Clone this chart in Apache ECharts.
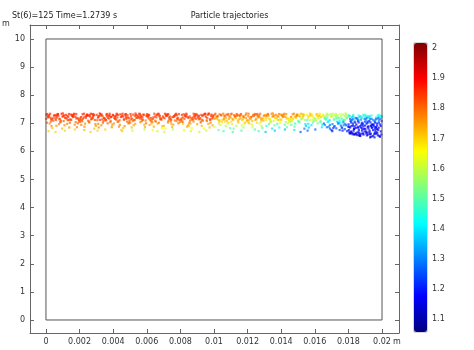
<!DOCTYPE html>
<html><head><meta charset="utf-8">
<script src="https://cdn.jsdelivr.net/npm/echarts@6/dist/echarts.min.js"></script>
<style>html,body{margin:0;padding:0;background:#fff}#c{width:474px;height:350px}</style>
</head><body><div id="c"></div>
<script>
const titleLeft = 'St(6)=125 Time=1.2739 s';
const titleMain = 'Particle trajectories';
const xTicks = [0, 0.002, 0.004, 0.006, 0.008, 0.01, 0.012, 0.014, 0.016, 0.018, 0.02];
const yTicks = [0, 1, 2, 3, 4, 5, 6, 7, 8, 9, 10];
const cbTicks = [1.1, 1.2, 1.3, 1.4, 1.5, 1.6, 1.7, 1.8, 1.9, 2];
const domainX = [0, 0.02, 0.02, 0, 0];
const domainY = [0, 0, 10, 10, 0];
// particles: [x (1e-5 m), y (0.01 m), particle value (0.01)]
const bandLeft = [
[3,731,186],[41,718,183],[17,724,186],[29,706,180],[8,733,186],[36,713,183],[22,699,177],[47,727,185],[13,721,184],[33,690,176],[1,716,184],[25,734,185],[44,709,181],[10,725,185],[38,683,172],[19,729,185],[31,714,184],[6,702,180],[27,720,184],[15,672,170],
[74,727,186],[59,712,183],[93,734,186],[66,720,183],[85,703,181],[52,729,185],[80,716,184],[62,691,176],[98,724,186],[70,732,185],[89,709,181],[55,718,183],[77,697,177],[64,730,185],[96,681,172],[82,714,183],[61,726,186],[87,706,180],[71,733,186],[57,669,170],
[137,733,186],[114,720,183],[105,708,181],[128,726,185],[145,714,184],[119,730,185],[110,693,177],[133,723,185],[124,717,184],[101,735,185],[142,702,181],[129,711,180],[108,728,186],[139,685,176],[117,719,184],[148,731,185],[126,698,177],[103,725,185],[135,712,184],[112,674,170],
[161,722,186],[180,733,185],[196,710,181],[154,728,185],[171,695,177],[188,719,183],[165,731,186],[177,704,180],[157,726,186],[193,715,183],[184,686,177],[168,734,185],[150,712,184],[175,723,185],[190,700,181],[159,730,185],[181,717,184],[172,678,170],[199,708,181],[163,725,185],
[220,716,184],[245,730,185],[208,722,186],[233,699,176],[226,734,186],[213,711,180],[241,726,186],[202,705,180],[237,719,184],[218,732,185],[229,688,177],[206,713,183],[247,728,186],[224,721,183],[210,694,177],[235,724,185],[216,707,181],[243,731,185],[228,676,172],[204,717,183],
[253,727,186],[291,712,183],[267,734,186],[279,720,183],[258,703,181],[286,729,185],[272,716,184],[297,691,176],[263,724,186],[283,732,185],[251,709,181],[275,718,183],[294,697,177],[260,730,185],[288,681,172],[269,714,183],[281,726,186],[256,706,180],[277,733,186],[265,669,170],
[324,733,186],[309,720,183],[343,708,181],[316,726,185],[335,714,184],[302,730,185],[330,693,177],[312,723,185],[348,717,184],[320,735,185],[339,702,181],[305,711,180],[327,728,186],[314,685,176],[346,719,184],[332,731,185],[311,698,177],[337,725,185],[321,712,184],[307,674,170],
[387,722,186],[364,733,185],[355,710,181],[378,728,185],[395,695,177],[369,719,183],[360,731,186],[383,704,180],[374,726,186],[351,715,183],[392,686,177],[379,734,185],[358,712,184],[389,723,185],[367,700,181],[398,730,185],[376,717,184],[353,678,170],[385,708,181],[362,725,185],
[411,716,184],[430,730,185],[446,722,186],[404,699,176],[421,734,186],[438,711,180],[415,726,186],[427,705,180],[407,719,184],[443,732,185],[434,688,177],[418,713,183],[400,728,186],[425,721,183],[440,694,177],[409,724,185],[431,707,181],[422,731,185],[449,676,172],[413,717,183],
[470,731,186],[495,718,183],[458,724,186],[483,706,180],[476,733,186],[463,713,183],[491,699,177],[452,727,185],[487,721,184],[468,690,176],[479,716,184],[456,734,185],[497,709,181],[474,725,185],[460,683,172],[485,729,185],[466,714,184],[493,702,180],[478,720,184],[454,672,170]
];
const bandMid = [
[503,733,185],[541,720,182],[517,708,179],[529,726,184],[508,714,183],[536,730,184],[522,693,174],[547,723,184],[513,717,183],[533,735,184],[501,702,179],[525,711,178],[544,728,185],[510,685,172],[538,719,183],[519,731,184],[531,698,174],[506,725,184],[527,712,183],[515,674,160],
[574,722,185],[559,733,184],[593,710,179],[566,728,184],[585,695,174],[552,719,182],[580,731,185],[562,704,178],[598,726,185],[570,715,182],[589,686,174],[555,734,184],[577,712,183],[564,723,184],[596,700,179],[582,730,184],[561,717,183],[587,678,160],[571,708,179],[557,725,184],
[637,716,183],[614,730,184],[605,722,185],[628,699,172],[645,734,185],[619,711,178],[610,726,185],[633,705,178],[624,719,183],[601,732,184],[642,688,174],[629,713,182],[608,728,185],[639,721,182],[617,694,174],[648,724,184],[626,707,179],[603,731,184],[635,676,165],[612,717,182],
[661,731,185],[680,718,182],[696,724,185],[654,706,178],[671,733,185],[688,713,182],[665,699,174],[677,727,184],[657,721,183],[693,690,172],[684,716,183],[668,734,184],[650,709,179],[675,725,184],[690,683,165],[659,729,184],[681,714,183],[672,702,178],[699,720,183],[663,672,160],
[720,727,185],[745,712,182],[708,734,185],[733,720,182],[726,703,179],[713,729,184],[741,716,183],[702,691,172],[737,724,185],[718,732,184],[729,709,179],[706,718,182],[747,697,174],[724,730,184],[710,681,165],[735,714,182],[716,726,185],[743,706,178],[728,733,185],[704,669,160],
[753,722,185],[791,733,184],[767,710,179],[779,728,184],[758,695,174],[786,719,182],[772,731,185],[797,704,178],[763,726,185],[783,715,182],[751,686,174],[775,734,184],[794,712,183],[760,723,184],[788,700,179],[769,730,184],[781,717,183],[756,678,160],[777,708,179],[765,725,184],
[824,716,183],[809,730,184],[843,722,185],[816,699,172],[835,734,185],[802,711,178],[830,726,185],[812,705,178],[848,719,183],[820,732,184],[839,688,174],[805,713,182],[827,728,185],[814,721,182],[846,694,174],[832,724,184],[811,707,179],[837,731,184],[821,676,165],[807,717,182],
[887,731,185],[864,718,182],[855,724,185],[878,706,178],[895,733,185],[869,713,182],[860,699,174],[883,727,184],[874,721,183],[851,690,172],[892,716,183],[879,734,184],[858,709,179],[889,725,184],[867,683,165],[898,729,184],[876,714,183],[853,702,178],[885,720,183],[862,672,160],
[911,727,185],[930,712,182],[946,734,185],[904,720,182],[921,703,179],[938,729,184],[915,716,183],[927,691,172],[907,724,185],[943,732,184],[934,709,179],[918,718,182],[900,697,174],[925,730,184],[940,681,165],[909,714,182],[931,726,185],[922,706,178],[949,733,185],[913,669,160],
[970,733,185],[995,720,182],[958,708,179],[983,726,184],[976,714,183],[963,730,184],[991,693,174],[952,723,184],[987,717,183],[968,735,184],[979,702,179],[956,711,178],[997,728,185],[974,685,172],[960,719,183],[985,731,184],[966,698,174],[993,725,184],[978,712,183],[954,674,160]
];
const bandRight = [
[1003,716,175],[1041,730,179],[1017,722,181],[1029,699,158],[1008,734,181],[1036,711,169],[1022,726,181],[1047,705,169],[1013,719,175],[1033,732,179],[1001,688,162],[1025,713,172],[1044,728,181],[1010,721,172],[1038,694,162],[1019,724,179],[1031,707,172],[1006,731,179],[1027,676,152],[1015,717,172],
[1074,731,181],[1059,718,172],[1093,724,181],[1066,706,169],[1085,733,181],[1052,713,172],[1080,699,162],[1062,727,179],[1098,721,175],[1070,690,158],[1089,716,175],[1055,734,179],[1077,709,172],[1064,725,179],[1096,683,152],[1082,729,179],[1061,714,175],[1087,702,169],[1071,720,175],[1057,672,148],
[1137,727,181],[1114,712,172],[1105,734,181],[1128,720,172],[1145,703,172],[1119,729,179],[1110,716,175],[1133,691,158],[1124,724,181],[1101,732,179],[1142,709,172],[1129,718,172],[1108,697,162],[1139,730,179],[1117,681,152],[1148,714,172],[1126,726,181],[1103,706,169],[1135,733,181],[1112,669,148],
[1161,733,181],[1180,720,172],[1196,708,172],[1154,726,179],[1171,714,175],[1188,730,179],[1165,693,162],[1177,723,179],[1157,717,175],[1193,735,179],[1184,702,172],[1168,711,169],[1150,728,181],[1175,685,158],[1190,719,175],[1159,731,179],[1181,698,162],[1172,725,179],[1199,712,175],[1163,674,148],
[1220,722,181],[1245,733,179],[1208,710,172],[1233,728,179],[1226,695,162],[1213,719,172],[1241,731,181],[1202,704,169],[1237,726,181],[1218,715,172],[1229,686,162],[1206,734,179],[1247,712,175],[1224,723,179],[1210,700,172],[1235,730,179],[1216,717,175],[1243,678,148],[1228,708,172],[1204,725,179],
[1253,731,181],[1291,718,172],[1267,724,181],[1279,706,169],[1258,733,181],[1286,713,172],[1272,699,162],[1297,727,179],[1263,721,175],[1283,690,158],[1251,716,175],[1275,734,179],[1294,709,172],[1260,725,179],[1288,683,152],[1269,729,179],[1281,714,175],[1256,702,169],[1277,720,175],[1265,672,148],
[1324,727,178],[1309,712,168],[1343,734,178],[1316,720,168],[1335,703,162],[1302,729,176],[1330,716,170],[1312,691,146],[1348,724,178],[1320,732,176],[1339,709,162],[1305,718,168],[1327,697,150],[1314,730,176],[1346,681,140],[1332,714,168],[1311,726,178],[1337,706,158],[1321,733,178],[1307,669,136],
[1387,733,178],[1364,720,168],[1355,708,162],[1378,726,176],[1395,714,170],[1369,730,176],[1360,693,150],[1383,723,176],[1374,717,170],[1351,735,176],[1392,702,162],[1379,711,158],[1358,728,178],[1389,685,146],[1367,719,170],[1398,731,176],[1376,698,150],[1353,725,176],[1385,712,170],[1362,674,136],
[1411,722,178],[1430,733,176],[1446,710,162],[1404,728,176],[1421,695,150],[1438,719,168],[1415,731,178],[1427,704,158],[1407,726,178],[1443,715,168],[1434,686,150],[1418,734,176],[1400,712,170],[1425,723,176],[1440,700,162],[1409,730,176],[1431,717,170],[1422,678,136],[1449,708,162],[1413,725,176],
[1470,716,170],[1495,730,176],[1458,722,178],[1483,699,146],[1476,734,178],[1463,711,158],[1491,726,178],[1452,705,158],[1487,719,170],[1468,732,176],[1479,688,150],[1456,713,168],[1497,728,178],[1474,721,168],[1460,694,150],[1485,724,176],[1466,707,162],[1493,731,176],[1478,676,140],[1454,717,168],
[1503,727,172],[1541,712,158],[1517,734,172],[1529,720,158],[1508,703,152],[1536,729,168],[1522,716,162],[1547,691,136],[1513,724,172],[1533,732,168],[1501,709,152],[1525,718,158],[1544,697,140],[1510,730,168],[1538,681,130],[1519,714,158],[1531,726,172],[1506,706,148],[1527,733,172],[1515,669,127],
[1574,733,172],[1559,720,158],[1593,708,152],[1566,726,168],[1585,714,162],[1552,730,168],[1580,693,140],[1562,723,168],[1598,717,162],[1570,735,168],[1589,702,152],[1555,711,148],[1577,728,172],[1564,685,136],[1596,719,162],[1582,731,168],[1561,698,140],[1587,725,168],[1571,712,162],[1557,674,127],
[1637,722,172],[1614,733,168],[1605,710,152],[1628,728,168],[1645,695,140],[1619,719,158],[1610,731,172],[1633,704,148],[1624,726,172],[1601,715,158],[1642,686,140],[1629,734,168],[1608,712,162],[1639,723,168],[1617,700,152],[1648,730,168],[1626,717,162],[1603,678,127],[1635,708,152],[1612,725,168],
[1661,716,152],[1680,730,158],[1696,722,162],[1654,699,127],[1671,734,162],[1688,711,138],[1665,726,162],[1677,705,138],[1657,719,152],[1693,732,158],[1684,688,130],[1668,713,148],[1650,728,162],[1675,721,148],[1690,694,130],[1659,724,158],[1681,707,142],[1672,731,158],[1699,676,122],[1663,717,148],
[1720,731,162],[1745,718,148],[1708,724,162],[1733,706,138],[1726,733,162],[1713,713,148],[1741,699,130],[1702,727,158],[1737,721,152],[1718,690,127],[1729,716,152],[1706,734,158],[1747,709,142],[1724,725,158],[1710,683,122],[1735,729,158],[1716,714,152],[1743,702,138],[1728,720,152],[1704,672,120],
[1753,733,162],[1791,720,148],[1767,708,142],[1779,726,158],[1758,714,152],[1786,730,158],[1772,693,130],[1797,723,158],[1763,717,152],[1783,735,158],[1751,702,142],[1775,711,138],[1794,728,162],[1760,685,127],[1788,719,152],[1769,731,158],[1781,698,130],[1756,725,158],[1777,712,152],[1765,674,120]
];
const lowerBlue = [
[1660,694,132],[1672,686,128],[1690,681,126],[1705,697,130],[1715,688,127],[1728,682,125],[1739,700,131],[1748,676,124],[1755,692,127],[1762,684,125],[1770,703,130],[1778,679,123],[1786,693,126],[1792,672,122],[1798,688,124]
];
const endCluster = [
[1803,728,145],[1841,702,123],[1817,671,116],[1829,715,130],[1808,664,115],[1836,689,119],[1822,722,138],[1847,663,116],[1813,708,121],[1833,680,118],[1801,696,119],[1825,661,115],[1844,718,127],[1810,685,118],[1838,660,116],[1819,711,130],[1831,674,115],[1806,725,145],[1827,692,119],[1815,667,116],
[1874,713,130],[1859,684,118],[1893,726,145],[1866,661,116],[1885,699,119],[1852,658,115],[1880,720,138],[1862,676,116],[1898,706,123],[1870,690,119],[1889,730,145],[1855,668,115],[1877,695,118],[1864,657,116],[1896,716,127],[1882,681,118],[1861,703,121],[1887,664,116],[1871,724,138],[1857,687,119],
[1937,728,145],[1914,702,123],[1905,671,116],[1928,715,130],[1945,655,115],[1919,689,119],[1910,722,138],[1933,663,116],[1924,708,121],[1901,680,118],[1942,696,119],[1929,650,115],[1908,718,127],[1939,685,118],[1917,660,116],[1948,711,130],[1926,674,115],[1903,725,145],[1935,692,119],[1912,667,116],
[1961,713,130],[1980,684,118],[1996,726,145],[1954,661,116],[1971,699,119],[1988,652,115],[1965,720,138],[1977,676,116],[1957,706,123],[1993,690,119],[1984,730,145],[1968,668,115],[1950,695,118],[1975,657,116],[1990,716,127],[1959,681,118],[1981,703,121],[1972,664,116],[1999,724,138],[1963,687,119],
[1820,713,130],[1845,684,118],[1808,726,145],[1833,661,116],[1826,699,119],[1813,664,115],[1841,720,138],[1802,676,116],[1837,706,123],[1818,690,119],[1829,730,145],[1806,668,115],[1847,695,118],[1824,666,116],[1810,716,127],[1835,681,118],[1816,703,121],[1843,664,116],[1828,724,138],[1804,687,119],
[1861,728,145],[1880,702,123],[1896,671,116],[1854,715,130],[1871,655,115],[1888,689,119],[1865,722,138],[1877,663,116],[1857,708,121],[1893,680,118],[1884,696,119],[1868,656,115],[1850,718,127],[1875,685,118],[1890,660,116],[1859,711,130],[1881,674,115],[1872,725,145],[1899,692,119],[1863,667,116],
[1903,713,130],[1941,684,118],[1917,726,145],[1929,661,116],[1908,699,119],[1936,652,115],[1922,720,138],[1947,676,116],[1913,706,123],[1933,690,119],[1901,730,145],[1925,668,115],[1944,695,118],[1910,657,116],[1938,716,127],[1919,681,118],[1931,703,121],[1906,664,116],[1927,724,138],[1915,687,119],
[1974,728,145],[1959,702,123],[1993,671,116],[1966,715,130],[1985,655,115],[1952,689,119],[1980,722,138],[1962,663,116],[1998,708,121],[1970,680,118],[1989,696,119],[1955,650,115],[1977,718,127],[1964,685,118],[1996,660,116],[1982,711,130],[1961,674,115],[1987,725,145],[1971,692,119],[1957,667,116]
];
const particles = [].concat(bandLeft, bandMid, bandRight, lowerBlue, endCluster)
  .map(p => [p[0] * 1e-5, p[1] * 0.01, p[2] * 0.01]);
const domain = domainX.map((x, i) => [x, domainY[i]]);

const FONT = '"DejaVu Sans", sans-serif';
const jet = ['#00007F', '#0000FF', '#007FFF', '#00FFFF', '#7FFF7F', '#FFFF00', '#FF7F00', '#FF0000', '#7F0000'];
const axisCol = '#666';
const txtCol = '#333';

const chart = echarts.init(document.getElementById('c'), null, { renderer: 'canvas' });
const frameAxis = (extra) => Object.assign({
  type: 'value',
  axisLine: { show: true, onZero: false, lineStyle: { color: axisCol, width: 1 } },
  splitLine: { show: false },
  axisLabel: { show: false }
}, extra);

chart.setOption({
  animation: false,
  grid: [
    { left: 30, top: 25, width: 369, height: 308, containLabel: false, outerBoundsMode: 'none' },
    { left: 414, top: 43, width: 13, height: 289, containLabel: false, outerBoundsMode: 'none', show: true, borderColor: '#555', borderWidth: 0.5, backgroundColor: 'transparent' }
  ],
  xAxis: [
    frameAxis({ gridIndex: 0, position: 'bottom', min: -0.00095, max: 0.02101,
      axisTick: { show: true, inside: true, length: 4, customValues: xTicks, lineStyle: { color: axisCol } },
      axisLabel: { show: true, customValues: xTicks, color: txtCol, fontSize: 8, fontFamily: FONT, margin: 5 } }),
    frameAxis({ gridIndex: 0, position: 'top', min: -0.00095, max: 0.02101,
      axisTick: { show: true, inside: true, length: 4, customValues: xTicks, lineStyle: { color: axisCol } } }),
    { gridIndex: 1, type: 'value', show: false, min: 0, max: 1 }
  ],
  yAxis: [
    frameAxis({ gridIndex: 0, position: 'left', min: -0.463, max: 10.498,
      axisTick: { show: true, inside: true, length: 4, customValues: yTicks, lineStyle: { color: axisCol } },
      axisLabel: { show: true, customValues: yTicks, color: txtCol, fontSize: 8, fontFamily: FONT, margin: 5 } }),
    frameAxis({ gridIndex: 0, position: 'right', min: -0.463, max: 10.498,
      axisTick: { show: true, inside: true, length: 4, customValues: yTicks, lineStyle: { color: axisCol } } }),
    { gridIndex: 1, type: 'value', position: 'right', min: 1.057, max: 2.017,
      axisLine: { show: false, onZero: false }, splitLine: { show: false },
      axisTick: { show: true, inside: true, length: 2, customValues: cbTicks, lineStyle: { color: '#222' } },
      axisLabel: { show: true, customValues: cbTicks, color: txtCol, fontSize: 8, fontFamily: FONT, margin: 5 } },
    { gridIndex: 1, type: 'value', position: 'left', min: 1.057, max: 2.017,
      axisLine: { show: false, onZero: false }, splitLine: { show: false },
      axisTick: { show: true, inside: true, length: 2, customValues: cbTicks, lineStyle: { color: '#222' } },
      axisLabel: { show: false } }
  ],
  visualMap: {
    type: 'continuous', seriesIndex: 0, dimension: 2, min: 1.057, max: 2.017,
    left: 414, top: 43, itemWidth: 13, itemHeight: 289, padding: 0,
    calculable: false, hoverLink: false, inRange: { color: jet }
  },
  graphic: [
    { type: 'text', x: 12, y: 15.5, style: { text: titleLeft, font: '8px ' + FONT, fill: '#222', textVerticalAlign: 'middle' } },
    { type: 'text', x: 229.5, y: 15.5, style: { text: titleMain, font: '8px ' + FONT, fill: '#222', textAlign: 'center', textVerticalAlign: 'middle' } },
    { type: 'text', x: 2, y: 24, style: { text: 'm', font: '8px ' + FONT, fill: txtCol, textVerticalAlign: 'middle' } },
    { type: 'text', x: 393, y: 342, style: { text: 'm', font: '8px ' + FONT, fill: txtCol, textVerticalAlign: 'middle' } }
  ],
  series: [
    { type: 'scatter', xAxisIndex: 0, yAxisIndex: 0, data: particles, symbol: 'rect', symbolSize: 2.2,
      itemStyle: { opacity: 0.72 }, silent: true, z: 2 },
    { type: 'line', xAxisIndex: 0, yAxisIndex: 0, data: domain, symbol: 'none', silent: true,
      lineStyle: { color: '#555', width: 1 }, z: 3 }
  ]
});
</script>
</body></html>
